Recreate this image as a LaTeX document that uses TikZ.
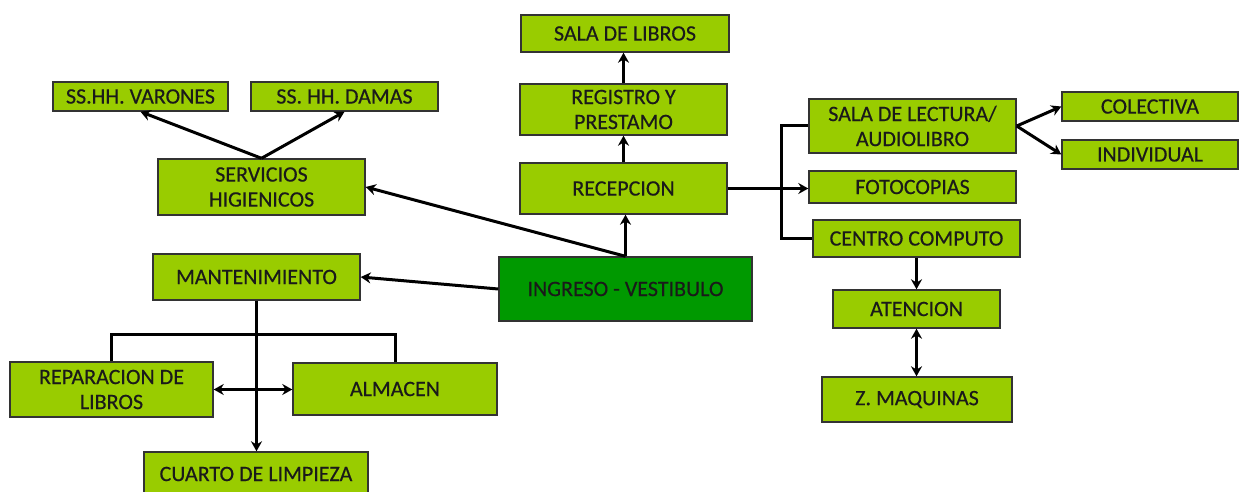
\documentclass[tikz,border=0pt]{standalone}
\usepackage{fontspec}
\setmainfont{Carlito}[UprightFeatures={FakeBold=0.4}]
\usetikzlibrary{arrows.meta,calc}
\definecolor{lg}{HTML}{99CC00}
\definecolor{dg}{HTML}{009900}
\definecolor{bd}{HTML}{333333}
\definecolor{tx}{HTML}{1A1A1A}
\tikzset{
  box/.style={draw=bd, line width=1.4pt, fill=lg, inner sep=0pt, align=center, text=tx,
     font=\fontsize{22}{25}\selectfont},
  con/.style={line width=3pt, draw=black},
  arr/.style={con, -{Stealth[length=10pt,width=11pt]}},
  darr/.style={con, {Stealth[length=10pt,width=11pt]}-{Stealth[length=10pt,width=11pt]}},
}
\newcommand{\bx}[7][lg]{%
  \node[box, fill=#1, minimum width={(#5-#3)*1pt}, minimum height={(#6-#4)*1pt}]
    (#2) at ({(#3+#5)/2},{-(#4+#6)/2}) {#7};}
\begin{document}
\begin{tikzpicture}[x=1pt,y=1pt]
\useasboundingbox (0,0) rectangle (1242,-492);
\bx{libros}{521}{15}{729}{52}{SALA DE LIBROS}
\bx{reg}{520}{84}{727}{135}{REGISTRO Y\\PRESTAMO}
\bx{rec}{520}{163}{727}{214}{RECEPCION}
\bx[dg]{ing}{499}{257}{752}{321}{INGRESO - VESTIBULO}
\bx{var}{53}{82}{228}{111}{SS.HH. VARONES}
\bx{dam}{251}{82}{438}{111}{SS. HH. DAMAS}
\bx{serv}{158}{159}{365}{215}{SERVICIOS\\HIGIENICOS}
\bx{lect}{809}{99}{1016}{153}{SALA DE LECTURA/\\AUDIOLIBRO}
\bx{col}{1062}{92}{1238}{121}{COLECTIVA}
\bx{ind}{1062}{140}{1238}{169}{INDIVIDUAL}
\bx{foto}{809}{171}{1016}{203}{FOTOCOPIAS}
\bx{cen}{813}{220}{1020}{257}{CENTRO COMPUTO}
\bx{aten}{833}{290}{1000}{328}{ATENCION}
\bx{zm}{822}{377}{1012}{422}{Z. MAQUINAS}
\bx{mant}{153}{254}{360}{300}{MANTENIMIENTO}
\bx{rep}{10}{362}{213}{417}{REPARACION DE\\LIBROS}
\bx{alm}{293}{363}{497}{415}{ALMACEN}
\bx{cua}{144}{452}{368}{496}{CUARTO DE LIMPIEZA}
\coordinate (bk) at (781,-126);
\coordinate (bar) at (256,-334);
% connectors
\draw[arr] (ing.north) -- (ing.north |- rec.south);
\draw[arr] (rec.north) -- (rec.north |- reg.south);
\draw[arr] (reg.north) -- (reg.north |- libros.south);
\draw[arr] (ing.north) -- (serv.east);
\draw[arr] (serv.north) -- (var.south);
\draw[arr] (serv.north) -- (dam.south);
\draw[arr] (ing.west) -- (mant.east);
\draw[arr] (mant.south) -- (mant.south |- cua.north);
\draw[con] (rep.north) |- (bar) -| (alm.north);
\draw[darr] (rep.east) -- (rep.east -| alm.west);
\draw[arr] (rec.east) -- (rec.east -| foto.west);
\draw[con] (lect.west) -- (bk) |- (cen.west);
\draw[arr] (lect.east) -- (col.west);
\draw[arr] (lect.east) -- (ind.west);
\draw[arr] (cen.south) -- (cen.south |- aten.north);
\draw[darr] (aten.south) -- (aten.south |- zm.north);
\end{tikzpicture}
\end{document}
